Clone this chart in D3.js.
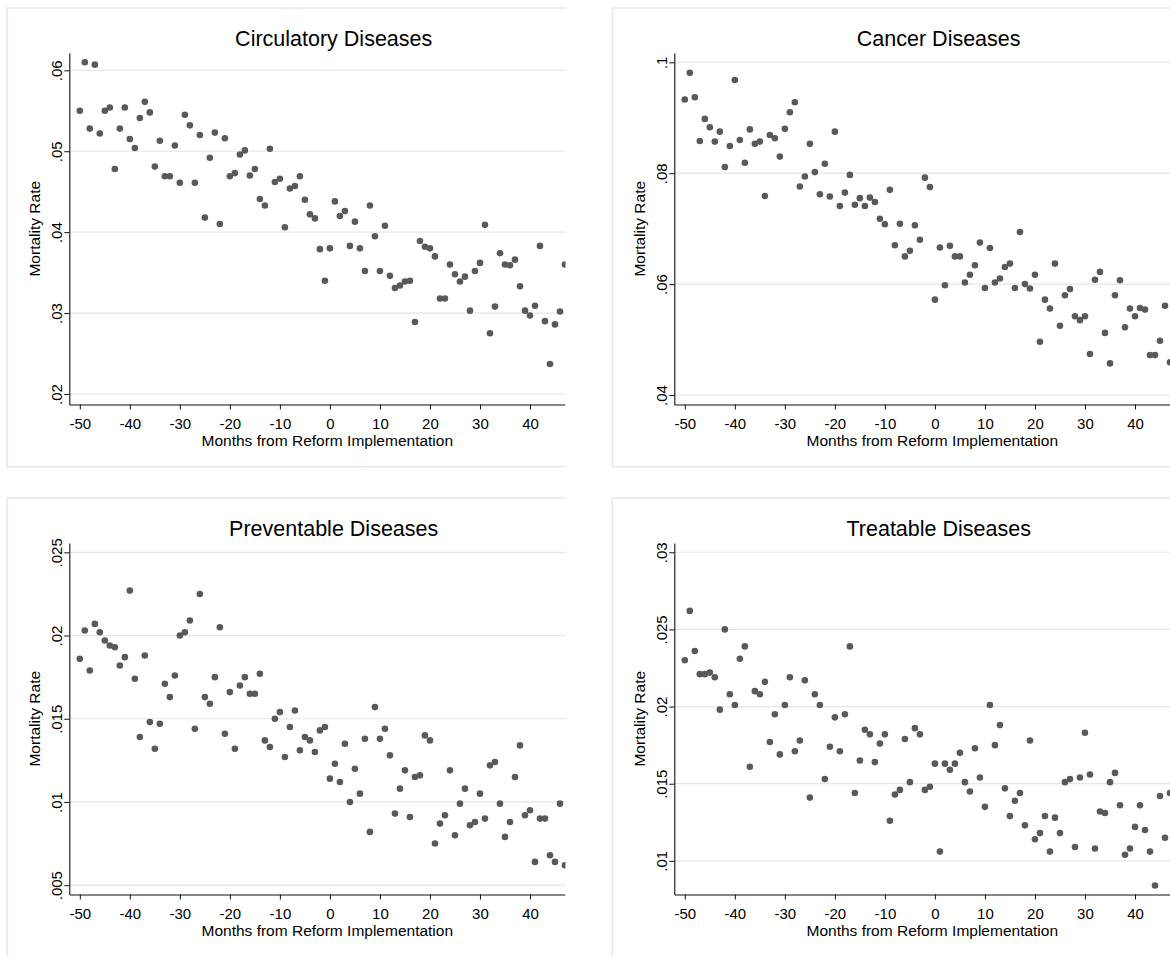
<!DOCTYPE html>
<html><head><meta charset="utf-8">
<script src="https://cdnjs.cloudflare.com/ajax/libs/d3/7.8.5/d3.min.js"></script>
<style>
body{margin:0;background:#fff}
svg{display:block}
text{font-family:"Liberation Sans",Arial,Helvetica,sans-serif;fill:#000}
</style>
</head><body>
<svg id="chart" width="1170" height="956"></svg>
<script>
// ---------- DATA ----------
const months = [-50,-49,-48,-47,-46,-45,-44,-43,-42,-41,-40,-39,-38,-37,-36,-35,-34,-33,-32,-31,
  -30,-29,-28,-27,-26,-25,-24,-23,-22,-21,-20,-19,-18,-17,-16,-15,-14,-13,-12,-11,
  -10,-9,-8,-7,-6,-5,-4,-3,-2,-1,0,1,2,3,4,5,6,7,8,9,10,11,12,13,14,15,16,17,18,19,
  20,21,22,23,24,25,26,27,28,29,30,31,32,33,34,35,36,37,38,39,40,41,42,43,44,45,46,47];

const circulatory = [
  .0550,.0610,.0528,.0607,.0522,.0550,.0554,.0478,.0528,.0554,
  .0515,.0504,.0541,.0561,.0548,.0481,.0513,.0469,.0469,.0507,
  .0461,.0545,.0532,.0461,.0520,.0418,.0492,.0523,.0410,.0516,
  .0469,.0473,.0496,.0501,.0470,.0478,.0441,.0433,.0503,.0462,
  .0466,.0406,.0454,.0457,.0469,.0440,.0422,.0417,.0379,.0340,
  .0380,.0438,.0420,.0426,.0383,.0413,.0380,.0352,.0433,.0395,
  .0352,.0408,.0346,.0331,.0334,.0339,.0340,.0289,.0389,.0382,
  .0380,.0370,.0318,.0318,.0360,.0348,.0339,.0345,.0303,.0352,
  .0362,.0409,.0275,.0308,.0374,.0360,.0359,.0366,.0333,.0303,
  .0297,.0309,.0383,.0290,.0237,.0286,.0302,.0360];

const cancer = [
  .0933,.0981,.0937,.0858,.0898,.0883,.0857,.0875,.0811,.0849,
  .0968,.0860,.0819,.0879,.0853,.0857,.0759,.0869,.0863,.0830,
  .0880,.0910,.0928,.0776,.0794,.0853,.0802,.0762,.0817,.0758,
  .0875,.0741,.0765,.0797,.0743,.0755,.0741,.0756,.0748,.0718,
  .0708,.0770,.0670,.0709,.0650,.0660,.0706,.0680,.0792,.0775,
  .0572,.0666,.0598,.0669,.0650,.0650,.0603,.0617,.0634,.0675,
  .0593,.0665,.0603,.0610,.0631,.0637,.0593,.0694,.0600,.0592,
  .0617,.0496,.0572,.0556,.0637,.0525,.0580,.0591,.0542,.0535,
  .0542,.0474,.0608,.0622,.0512,.0457,.0580,.0607,.0522,.0556,
  .0542,.0557,.0554,.0472,.0472,.0498,.0561,.0459];

const preventable = [
  .0186,.0203,.0179,.0207,.0202,.0197,.0194,.0193,.0182,.0187,
  .0227,.0174,.0139,.0188,.0148,.0132,.0147,.0171,.0163,.0176,
  .0200,.0202,.0209,.0144,.0225,.0163,.0159,.0175,.0205,.0141,
  .0166,.0132,.0170,.0175,.0165,.0165,.0177,.0137,.0133,.0150,
  .0154,.0127,.0145,.0155,.0131,.0139,.0137,.0130,.0143,.0145,
  .0114,.0123,.0112,.0135,.0100,.0120,.0105,.0138,.0082,.0157,
  .0138,.0144,.0128,.0093,.0108,.0119,.0091,.0115,.0116,.0140,
  .0137,.0075,.0087,.0092,.0119,.0080,.0099,.0108,.0086,.0088,
  .0105,.0090,.0122,.0124,.0099,.0079,.0088,.0115,.0134,.0092,
  .0095,.0064,.0090,.0090,.0068,.0064,.0099,.0062];

const treatable = [
  .0230,.0262,.0236,.0221,.0221,.0222,.0219,.0198,.0250,.0208,
  .0201,.0231,.0239,.0161,.0210,.0208,.0216,.0177,.0195,.0169,
  .0201,.0219,.0171,.0178,.0217,.0141,.0208,.0201,.0153,.0174,
  .0193,.0171,.0195,.0239,.0144,.0165,.0185,.0182,.0164,.0176,
  .0182,.0126,.0143,.0146,.0179,.0151,.0186,.0182,.0146,.0148,
  .0163,.0106,.0163,.0159,.0163,.0170,.0151,.0145,.0173,.0154,
  .0135,.0201,.0175,.0188,.0147,.0129,.0139,.0144,.0123,.0178,
  .0114,.0118,.0129,.0106,.0128,.0118,.0151,.0153,.0109,.0154,
  .0183,.0156,.0108,.0132,.0131,.0151,.0157,.0136,.0104,.0108,
  .0122,.0136,.0120,.0106,.0084,.0142,.0115,.0144];

const panelTitles = ["Circulatory Diseases","Cancer Diseases","Preventable Diseases","Treatable Diseases"];
const xTickValues = [-50,-40,-30,-20,-10,0,10,20,30,40];
const xTickLabels = ["-50","-40","-30","-20","-10","0","10","20","30","40"];
const xTitle = "Months from Reform Implementation";
const yTitle = "Mortality Rate";

const circYTicks = [.02,.03,.04,.05,.06];
const circYLabels = [".02",".03",".04",".05",".06"];
const cancerYTicks = [.04,.06,.08,.1];
const cancerYLabels = [".04",".06",".08",".1"];
const prevYTicks = [.005,.01,.015,.02,.025];
const prevYLabels = [".005",".01",".015",".02",".025"];
const treatYTicks = [.01,.015,.02,.025,.03];
const treatYLabels = [".01",".015",".02",".025",".03"];

const xDomain = [-52.1, 47];
const circYDomain = [0.0187, 0.06214];
const cancerYDomain = [0.03829, 0.10168];
const prevYDomain = [0.00444, 0.02556];
const treatYDomain = [0.00782, 0.0306];

// ---------- LAYOUT ----------
const panels = [
  {title: panelTitles[0], values: circulatory, ticks: circYTicks, labels: circYLabels, dom: circYDomain, dx: 0, dy: 0},
  {title: panelTitles[1], values: cancer, ticks: cancerYTicks, labels: cancerYLabels, dom: cancerYDomain, dx: 605, dy: 0},
  {title: panelTitles[2], values: preventable, ticks: prevYTicks, labels: prevYLabels, dom: prevYDomain, dx: 0, dy: 490},
  {title: panelTitles[3], values: treatable, ticks: treatYTicks, labels: treatYLabels, dom: treatYDomain, dx: 605, dy: 490}
];
const plotL = 69.3, plotR = 565, plotT = 53, plotB = 404.5;

const svg = d3.select("#chart");
const defs = svg.append("defs");
defs.append("clipPath").attr("id","panelClip")
  .append("rect").attr("x",0).attr("y",-10).attr("width",565.5).attr("height",500);

const x = d3.scaleLinear().domain(xDomain).range([plotL, plotR]);

panels.forEach((p, pi) => {
  const g = svg.append("g").attr("transform", `translate(${p.dx},${p.dy})`);
  const gc = g.append("g").attr("clip-path","url(#panelClip)");
  const y = d3.scaleLinear().domain(p.dom).range([plotB, plotT]);

  // panel border
  gc.append("rect").attr("x",7.3).attr("y",8).attr("width",700).attr("height",458.7)
    .attr("fill","none").attr("stroke","#e8e8e8").attr("stroke-width",1.6);

  // gridlines
  gc.selectAll("line.grid").data(p.ticks).join("line").attr("class","grid")
    .attr("x1",plotL).attr("x2",plotR+2).attr("y1",d=>y(d)).attr("y2",d=>y(d))
    .attr("stroke","#e6e6e6").attr("stroke-width",1.2);

  // points
  gc.selectAll("circle").data(p.values).join("circle")
    .attr("cx",(d,i)=>x(months[i])).attr("cy",d=>y(d)).attr("r",3.3)
    .attr("fill","#595959");

  // x axis
  const xa = gc.append("g").attr("transform",`translate(0,${plotB})`)
    .call(d3.axisBottom(x).tickValues(xTickValues).tickFormat((d,i)=>xTickLabels[i]).tickSize(5).tickSizeOuter(0));
  xa.select(".domain").attr("stroke","#111").attr("stroke-width",1.1);
  xa.selectAll(".tick line").attr("stroke","#111");
  xa.selectAll(".tick text").attr("y",24.8).attr("dy",null)
    .style("font-size","15px").style("font-family",'"Liberation Sans",Arial,sans-serif').attr("fill","#000");

  // y axis
  const ya = g.append("g").attr("transform",`translate(${plotL},0)`)
    .call(d3.axisLeft(y).tickValues(p.ticks).tickFormat((d,i)=>p.labels[i]).tickSize(5).tickSizeOuter(0));
  ya.select(".domain").attr("stroke","#111").attr("stroke-width",1.1);
  ya.selectAll(".tick line").attr("stroke","#111");
  ya.selectAll(".tick text").attr("x",-7).attr("y",0).attr("dy",null)
    .attr("text-anchor","middle").attr("transform","rotate(-90,-7,0)")
    .style("font-size","15px").style("font-family",'"Liberation Sans",Arial,sans-serif').attr("fill","#000");

  // titles
  g.append("text").attr("x",333.7).attr("y",45.7).attr("text-anchor","middle")
    .style("font-size","21.5px").text(p.title);
  g.append("text").attr("x",327.3).attr("y",446).attr("text-anchor","middle")
    .style("font-size","15.5px").text(xTitle);
  const ty = (plotT + plotB)/2;
  g.append("text").attr("x",40.4).attr("y",ty).attr("text-anchor","middle")
    .attr("transform",`rotate(-90,40.4,${ty})`)
    .style("font-size","15.5px").text(yTitle);
});
</script>
</body></html>
